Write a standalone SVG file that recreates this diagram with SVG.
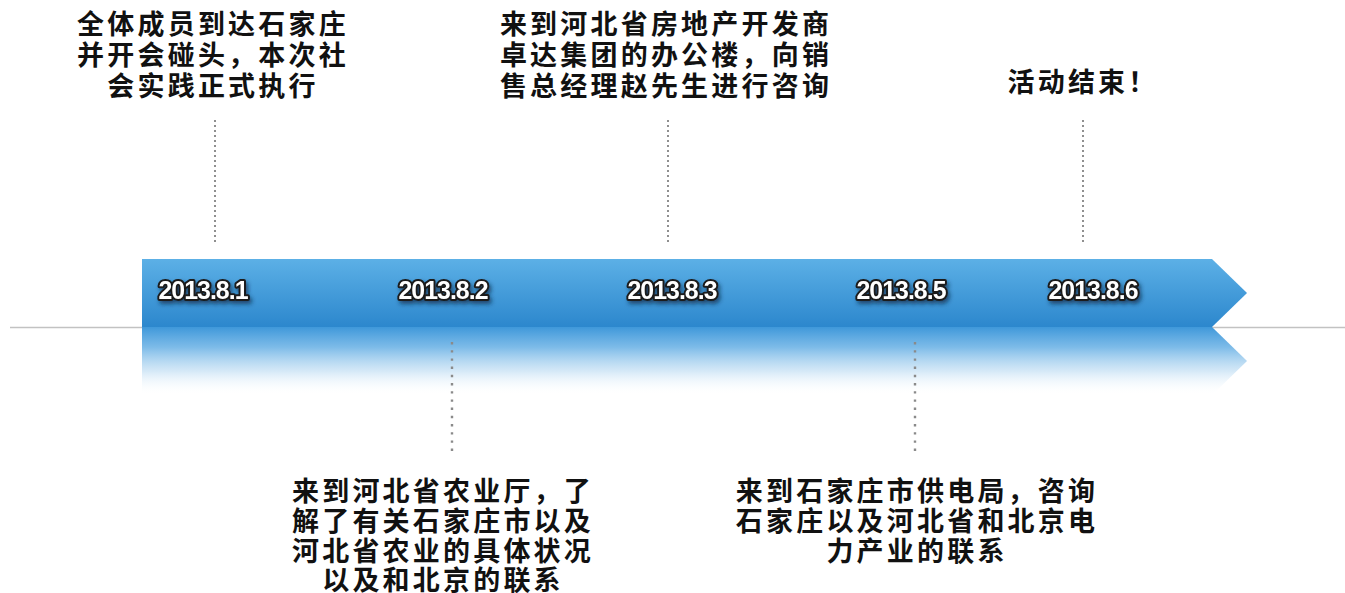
<svg xmlns="http://www.w3.org/2000/svg" width="1345" height="593" viewBox="0 0 1345 593">
  <style>
    .note { font-family: "Noto Sans CJK SC", "Noto Sans", sans-serif; font-weight: bold; font-size: 27px; letter-spacing: 3.2px; fill: #111; text-anchor: middle; }
    .date { font-family: "Liberation Sans", Arial, sans-serif; font-weight: bold; font-size: 25px; fill: #fff; stroke: #1a1a1a; stroke-width: 4; stroke-linejoin: round; paint-order: stroke; text-anchor: middle; letter-spacing: -1px; }
    .dotTop { stroke: #8f8f8f; stroke-width: 2; stroke-dasharray: 2 3; fill: none; }
    .dotBot { stroke: #8a8a8a; stroke-width: 2.4; stroke-dasharray: 2.4 5.8; fill: none; }
  </style>
  <defs>
    <linearGradient id="band" x1="0" y1="0" x2="0" y2="1">
      <stop offset="0" stop-color="#5cb0e6"/>
      <stop offset="1" stop-color="#2c87cd"/>
    </linearGradient>
    <linearGradient id="refl" x1="0" y1="0" x2="0" y2="1">
      <stop offset="0" stop-color="#3f98da" stop-opacity="1"/>
      <stop offset="0.3" stop-color="#6fb4e6" stop-opacity="0.9"/>
      <stop offset="0.65" stop-color="#b9daf2" stop-opacity="0.6"/>
      <stop offset="1" stop-color="#ffffff" stop-opacity="0"/>
    </linearGradient>
    <filter id="shadow" x="-20%" y="-40%" width="140%" height="190%">
      <feDropShadow dx="2" dy="3" stdDeviation="2" flood-color="#0a2a45" flood-opacity="0.7"/>
    </filter>
  </defs>

  <rect width="1345" height="593" fill="#ffffff"/>

  <g id="timeline">
    <line x1="10" y1="327.5" x2="1345" y2="327.5" stroke="#c2c2c2" stroke-width="1.6"/>
    <polygon points="142,327 1212,327 1247,361 1212,395 142,395" fill="url(#refl)"/>
    <polygon points="142,259 1212,259 1247,293 1212,327 142,327" fill="url(#band)"/>
  </g>

  <g id="connectors">
    <line class="dotTop" x1="215" y1="120" x2="215" y2="243"/>
    <line class="dotTop" x1="668" y1="120" x2="668" y2="243"/>
    <line class="dotTop" x1="1083" y1="120" x2="1083" y2="243"/>
    <line class="dotBot" x1="452" y1="342" x2="452" y2="452"/>
    <line class="dotBot" x1="915" y1="342" x2="915" y2="452"/>
  </g>

  <g id="node-d1">
    <text class="date" x="203" y="299" textLength="89" lengthAdjust="spacingAndGlyphs" filter="url(#shadow)">2013.8.1</text>
    <text class="note" x="213" y="34">全体成员到达石家庄</text>
    <text class="note" x="213" y="65">并开会碰头，本次社</text>
    <text class="note" x="213" y="96">会实践正式执行</text>
  </g>

  <g id="node-d2">
    <text class="date" x="443" y="299" textLength="89" lengthAdjust="spacingAndGlyphs" filter="url(#shadow)">2013.8.2</text>
    <text class="note" x="443" y="501">来到河北省农业厅，了</text>
    <text class="note" x="443" y="531">解了有关石家庄市以及</text>
    <text class="note" x="443" y="561">河北省农业的具体状况</text>
    <text class="note" x="443" y="590">以及和北京的联系</text>
  </g>

  <g id="node-d3">
    <text class="date" x="672" y="299" textLength="89" lengthAdjust="spacingAndGlyphs" filter="url(#shadow)">2013.8.3</text>
    <text class="note" x="666" y="34">来到河北省房地产开发商</text>
    <text class="note" x="666" y="65">卓达集团的办公楼，向销</text>
    <text class="note" x="666" y="96">售总经理赵先生进行咨询</text>
  </g>

  <g id="node-d5">
    <text class="date" x="901" y="299" textLength="89" lengthAdjust="spacingAndGlyphs" filter="url(#shadow)">2013.8.5</text>
    <text class="note" x="917" y="501">来到石家庄市供电局，咨询</text>
    <text class="note" x="917" y="531">石家庄以及河北省和北京电</text>
    <text class="note" x="917" y="561">力产业的联系</text>
  </g>

  <g id="node-d6">
    <text class="date" x="1093" y="299" textLength="89" lengthAdjust="spacingAndGlyphs" filter="url(#shadow)">2013.8.6</text>
    <text class="note" x="1083" y="92">活动结束！</text>
  </g>
</svg>
